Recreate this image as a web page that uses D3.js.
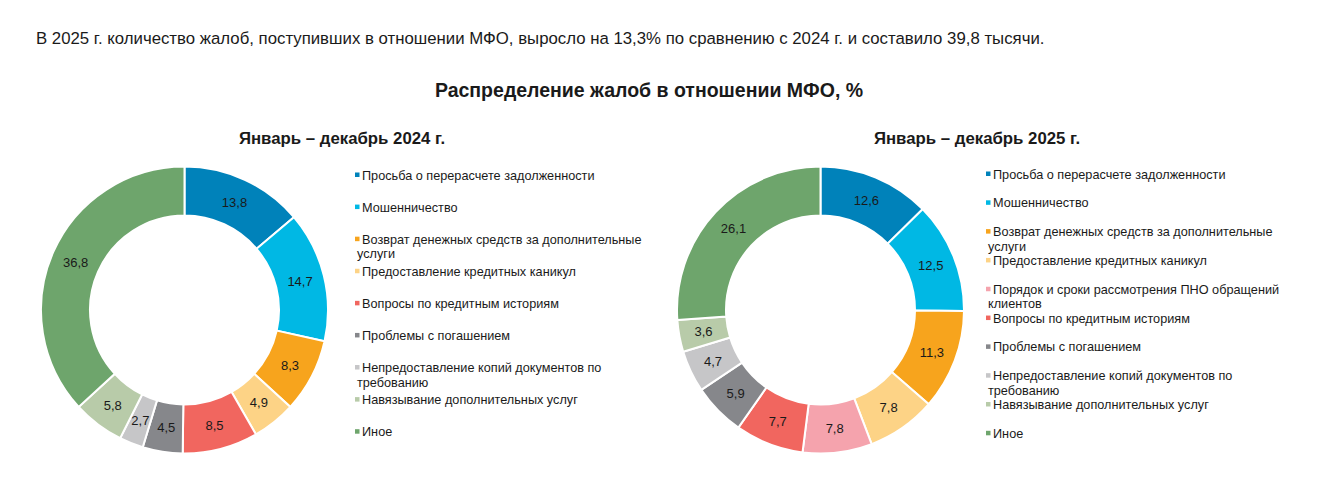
<!DOCTYPE html>
<html>
<head>
<meta charset="utf-8">
<script src="https://cdn.jsdelivr.net/npm/d3@7"></script>
<style>
  html, body { margin: 0; padding: 0; background: #fff; }
  svg { display: block; font-family: 'Liberation Sans', Arial, sans-serif; }
</style>
</head>
<body>
<div id="chart"></div>
<script>
const width = 1318
const height = 500

const leadText = 'В 2025 г. количество жалоб, поступивших в отношении МФО, выросло на 13,3% по сравнению с 2024 г. и составило 39,8 тысячи.'
const chartTitle = 'Распределение жалоб в отношении МФО, %'

// категории 2024 г. (по часовой стрелке от 12 часов)
const categories2024 = [
  'Просьба о перерасчете задолженности',
  'Мошенничество',
  'Возврат денежных средств за дополнительные\nуслуги',
  'Предоставление кредитных каникул',
  'Вопросы по кредитным историям',
  'Проблемы с погашением',
  'Непредоставление копий документов по\nтребованию',
  'Навязывание дополнительных услуг',
  'Иное'
]
const values2024 = [13.8, 14.7, 8.3, 4.9, 8.5, 4.5, 2.7, 5.8, 36.8]

// категории 2025 г.
const categories2025 = [
  'Просьба о перерасчете задолженности',
  'Мошенничество',
  'Возврат денежных средств за дополнительные\nуслуги',
  'Предоставление кредитных каникул',
  'Порядок и сроки рассмотрения ПНО обращений\nклиентов',
  'Вопросы по кредитным историям',
  'Проблемы с погашением',
  'Непредоставление копий документов по\nтребованию',
  'Навязывание дополнительных услуг',
  'Иное'
]
const values2025 = [12.6, 12.5, 11.3, 7.8, 7.8, 7.7, 5.9, 4.7, 3.6, 26.1]

const colorByCategory = new Map([
  ['Просьба о перерасчете задолженности', '#0082ba'],
  ['Мошенничество', '#00b8e4'],
  ['Возврат денежных средств за дополнительные\nуслуги', '#f7a41d'],
  ['Предоставление кредитных каникул', '#fdd386'],
  ['Порядок и сроки рассмотрения ПНО обращений\nклиентов', '#f5a3ad'],
  ['Вопросы по кредитным историям', '#f1665f'],
  ['Проблемы с погашением', '#86878b'],
  ['Непредоставление копий документов по\nтребованию', '#c6c6c8'],
  ['Навязывание дополнительных услуг', '#b8cba9'],
  ['Иное', '#6ea56c']
])

const panels = [
  {
    title: 'Январь – декабрь 2024 г.',
    titleX: 342,
    categories: categories2024,
    values: values2024,
    cx: 184.5,
    legendX: 355,
    legendY: [175, 431.7]
  },
  {
    title: 'Январь – декабрь 2025 г.',
    titleX: 977,
    categories: categories2025,
    values: values2025,
    cx: 820.5,
    legendX: 986,
    legendY: [174, 433.3]
  }
]

const donut = { cy: 310, outer: 143.5, inner: 94.5 }
const formatValue = v => String(v.toFixed(1)).replace('.', ',')

const svg = d3
  .select('#chart')
  .append('svg')
  .attr('width', width)
  .attr('height', height)

svg
  .append('text')
  .attr('x', 36)
  .attr('y', 44)
  .attr('font-size', 16.8)
  .attr('fill', '#1a1a1a')
  .text(leadText)

svg
  .append('text')
  .attr('x', 649)
  .attr('y', 97)
  .attr('text-anchor', 'middle')
  .attr('font-size', 19.5)
  .attr('font-weight', 'bold')
  .attr('fill', '#1a1a1a')
  .text(chartTitle)

const pie = d3.pie().sort(null).value(d => d.value)
const arc = d3.arc().innerRadius(donut.inner).outerRadius(donut.outer)

const drawPanel = panel => {
  const rows = panel.categories.map((category, i) => ({ category, value: panel.values[i] }))

  svg
    .append('text')
    .attr('x', panel.titleX)
    .attr('y', 144)
    .attr('text-anchor', 'middle')
    .attr('font-size', 16.8)
    .attr('font-weight', 'bold')
    .attr('fill', '#1a1a1a')
    .text(panel.title)

  const g = svg.append('g').attr('transform', `translate(${panel.cx},${donut.cy})`)
  const arcs = pie(rows)

  g.selectAll('path')
    .data(arcs)
    .enter()
    .append('path')
    .attr('d', arc)
    .attr('fill', d => colorByCategory.get(d.data.category))
    .attr('stroke', '#fff')
    .attr('stroke-width', 2)

  g.selectAll('text.value')
    .data(arcs)
    .enter()
    .append('text')
    .attr('class', 'value')
    .attr('transform', d => `translate(${arc.centroid(d)})`)
    .attr('text-anchor', 'middle')
    .attr('dy', '0.35em')
    .attr('font-size', 13)
    .attr('fill', '#1a1a1a')
    .text(d => formatValue(d.data.value))

  // легенда
  const yScale = d3
    .scalePoint()
    .domain(d3.range(rows.length))
    .range(panel.legendY)

  const legend = svg
    .append('g')
    .selectAll('g')
    .data(rows)
    .enter()
    .append('g')
    .attr('transform', (d, i) => `translate(${panel.legendX},${yScale(i)})`)

  legend
    .append('rect')
    .attr('x', 0)
    .attr('y', -2.5)
    .attr('width', 4.5)
    .attr('height', 4.5)
    .attr('fill', d => colorByCategory.get(d.category))

  legend
    .append('text')
    .attr('font-size', 12.7)
    .attr('fill', '#1a1a1a')
    .selectAll('tspan')
    .data(d => d.category.split('\n'))
    .enter()
    .append('tspan')
    .attr('x', (d, i) => (i === 0 ? 7 : 2))
    .attr('y', (d, i) => 4.5 + i * 14.5)
    .text(d => d)
}

panels.forEach(drawPanel)
</script>
</body>
</html>
